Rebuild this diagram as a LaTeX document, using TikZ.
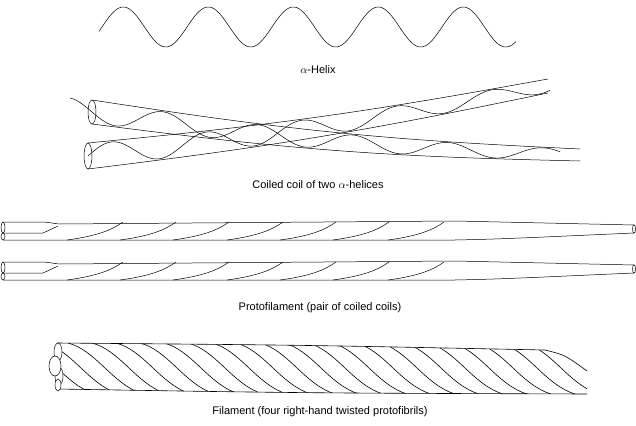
\documentclass[tikz,border=0pt]{standalone}
\usepackage{fontspec}
\setmainfont{Liberation Sans}
\begin{document}
\begin{tikzpicture}[x=1pt,y=-1pt,line width=0.6pt,
  lbl/.style={font=\fontsize{11}{13}\selectfont, inner sep=0pt},
  thin/.style={line width=0.5pt}]
\useasboundingbox (0,0) rectangle (636,425);
% alpha helix
\draw[thin] plot[domain=99:516,samples=300,smooth] (\x,{27-20*sin((\x-102)/85*360)});
\node[lbl] (l1) at (318,70) {$\alpha$-Helix};
% coiled coil
\def\yA#1{(112+43*((#1-92)/488)+8*sin(180*((#1-92)/488)))}
\def\wA#1{(12-6*((#1-92)/488))}
\def\yB#1{(156-70*((#1-88)/460)+6*sin(180*((#1-88)/460)))}
\def\wB#1{(13-6*((#1-88)/460))}
\draw[thin] plot[domain=92:580,samples=80,smooth] (\x,{\yA{\x}-\wA{\x}});
\draw[thin] plot[domain=92:580,samples=80,smooth] (\x,{\yA{\x}+\wA{\x}});
\draw[thin] plot[domain=88:548,samples=80,smooth] (\x,{\yB{\x}-\wB{\x}});
\draw[thin] plot[domain=88:548,samples=80,smooth] (\x,{\yB{\x}+\wB{\x}});
\draw[thin] (92,112) ellipse [x radius=4,y radius=12];
\draw[thin] (88,156) ellipse [x radius=4,y radius=13];
\draw[thin] plot[domain=70:560,samples=300,smooth] (\x,{\yA{\x}+0.9*\wA{\x}*sin((\x-92)/95*360)});
\draw[thin] plot[domain=88:550,samples=300,smooth] (\x,{\yB{\x}-0.9*\wB{\x}*sin((\x-88)/95*360)});
\node[lbl] (l2) at (318,185) {Coiled coil of two $\alpha$-helices};
% protofilaments
\foreach \o in {0,40}{
  \begin{scope}[yshift=-\o]
  \draw[thin] (3,222) -- (40,222) .. controls (50,222) and (55,224) .. (60,224) -- (455,221) .. controls (500,222) .. (634,225);
  \draw[thin] (3,240) -- (455,240) .. controls (500,239) .. (634,233);
  \draw[thin] (3,233) -- (43,233) -- (58,226);
  \draw[thin] (3,227.5) ellipse [x radius=2,y radius=5.5];
  \draw[thin] (3,236.5) ellipse [x radius=2,y radius=3.5];
  \draw[thin] (634,229) ellipse [x radius=1.5,y radius=4];
  \foreach \s in {67,120,173,227,280,333,388}{
    \draw[thin] (\s,240) .. controls (\s+30,236) and (\s+45,230) .. (\s+56,222);
  }
  \end{scope}
}
\node[lbl] (l3) at (320,308) {Protofilament (pair of coiled coils)};
% filament
\begin{scope}
\clip (57,343) .. controls (300,345) .. (545,350) .. controls (565,355) .. (587,371) -- (587,394) .. controls (300,393) .. (57,389) -- cycle;
\foreach \s in {-100,-76,...,590}{
  \draw[line width=0.6pt] (\s,343) .. controls (\s+28,350) and (\s+45,385) .. (\s+75,394);
}
\end{scope}
\draw[line width=0.6pt] (57,343) .. controls (300,345) .. (545,350) .. controls (565,355) .. (587,371);
\draw[line width=0.6pt] (57,389) .. controls (300,393) .. (587,394);
\draw[thin,fill=white] (58,352) ellipse [x radius=4,y radius=9];
\draw[thin,fill=white] (59,376) ellipse [x radius=4,y radius=9];
\draw[thin,fill=white] (58,385) ellipse [x radius=3,y radius=6];
\draw[thin,fill=white] (55,366) ellipse [x radius=6,y radius=10];
\node[lbl] (l4) at (320,412) {Filament (four right-hand twisted protofibrils)};
\end{tikzpicture}
\end{document}
